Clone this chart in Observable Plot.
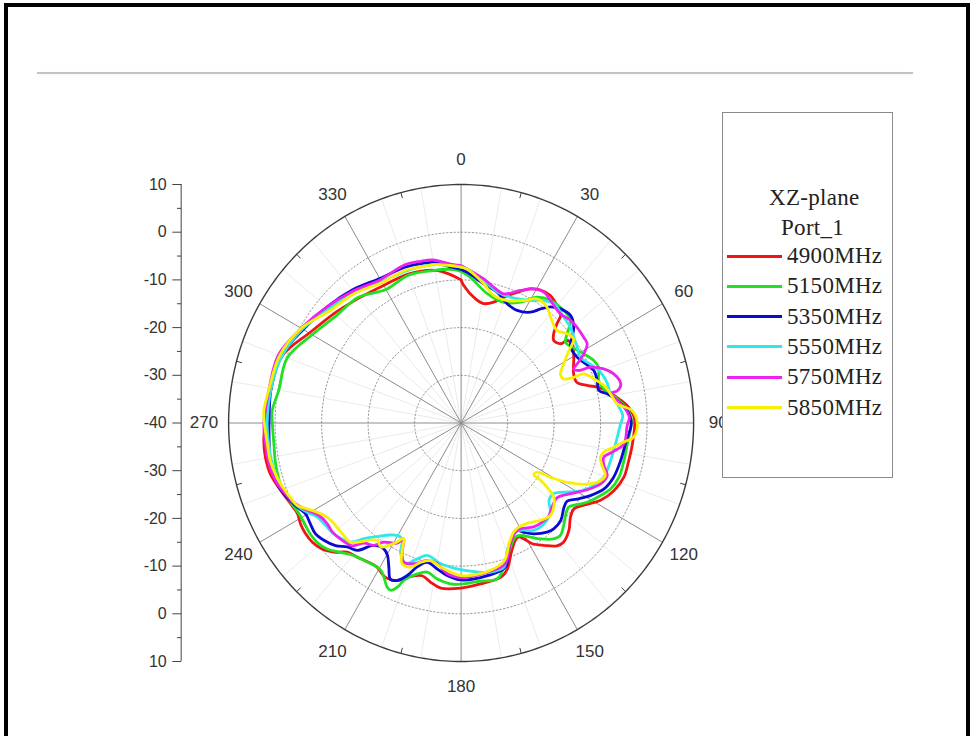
<!DOCTYPE html>
<html><head><meta charset="utf-8">
<script src="https://cdn.jsdelivr.net/npm/d3@7"></script>
<script src="https://cdn.jsdelivr.net/npm/@observablehq/plot@0.6"></script>
<style>
html,body{margin:0;padding:0;background:#fff;overflow:hidden;}
#wrap{position:relative;width:973px;height:736px;overflow:hidden;background:#fff;}
#chart{position:absolute;left:0;top:0;}
#frame{position:absolute;left:4px;top:3px;width:966px;height:800px;border:4px solid #000;box-sizing:border-box;}
#rule{position:absolute;left:37px;top:72px;width:876px;height:2px;background:#c2c2c2;box-shadow:0 2px 5px rgba(0,0,0,0.06);}
#legend{position:absolute;left:722px;top:112px;width:171px;height:366px;border:1px solid #8a8a8a;background:#fff;box-sizing:border-box;font-family:"Liberation Serif","Times New Roman",serif;color:#222;font-size:23px;letter-spacing:0.3px;}
#legend .t{position:absolute;white-space:nowrap;line-height:30px;height:30px;}
#legend .row{position:absolute;left:4px;height:30px;display:flex;align-items:center;white-space:nowrap;line-height:30px;}
#legend .sw{width:55px;height:3px;margin-right:5px;}
</style></head>
<body>
<div id="wrap">
  <div id="chart"></div>
  <div id="frame"></div>
  <div id="rule"></div>
  <div id="legend"></div>
</div>
<script>
// ---- data: [angle (deg, clockwise from top), gain (dB)] ----
const seriesNames = ["4900MHz","5150MHz","5350MHz","5550MHz","5750MHz","5850MHz"];
const seriesColors = ["#f01414","#22e022","#0a0ad2","#30e8e8","#ee22ee","#f8f000"];
const legendTitle = ["XZ-plane","Port_1"];
const angleTicks = [0,30,60,90,120,150,180,210,240,270,300,330];
const radialTicks = [10,0,-10,-20,-30,-40];
const radialMinor = [5,-5,-15,-25,-35];
const gridRings = [-30,-20,-10,0];

const f4900 = [[0,-10.0],[1.2,-11.2],[6.8,-13.8],[11.1,-14.5],[15.5,-13.7],[19.2,-12.1],[23.7,-10.1],[27.9,-8.2],[31.5,-7.3],[35.7,-7.1],[40,-7.9],[43.5,-8.9],[44.7,-10.7],[46.8,-12.7],[49,-13.6],[52.2,-12.9],[52.8,-11.4],[55.2,-10.9],[60.3,-12.1],[66.9,-13.7],[71,-13.7],[73.8,-11.8],[75.8,-9.5],[78.5,-7.5],[81.5,-5.7],[84.8,-3.8],[88.7,-2.7],[96.8,-2.9],[102.3,-3.1],[108,-3.2],[113.4,-4.2],[118.4,-5.9],[123.2,-8.5],[126.6,-9.8],[130,-9.3],[134.1,-7.7],[138.5,-6.7],[141.3,-7.0],[145.3,-8.8],[148.8,-10.4],[150.9,-12.2],[152.6,-13.1],[154.6,-12.8],[158.3,-10.8],[162,-7.8],[165,-6.6],[173,-6.0],[180,-5.4],[187.2,-5.1],[191.2,-6.0],[194.7,-6.9],[198.7,-6.0],[202.7,-4.2],[206.8,-3.8],[211,-4.8],[215.6,-4.5],[218.4,-4.1],[222.1,-3.5],[225.3,-1.5],[228.6,-0.1],[232,0.6],[235.3,0.7],[238.5,0.5],[241.6,0.0],[245.3,0.4],[251,1.5],[255.4,2.4],[260.3,2.7],[265,2.6],[270,2.1],[280,1.5],[290,1.0],[300.4,-2.4],[310,-4.3],[314,-5.0],[320.7,-5.9],[330,-6.7],[340,-6.8],[350,-7.5],[355.8,-8.8],[360,-10.0]];
const f5150 = [[0,-8.2],[3.7,-9.4],[11.7,-12.3],[19.9,-13.1],[26.8,-11.6],[31.7,-9.0],[36.8,-7.9],[43.1,-7.7],[47.6,-8.1],[50.6,-10.5],[53.1,-11.9],[56.4,-11.3],[61.2,-9.9],[65.3,-8.6],[68.4,-8.2],[73.3,-9.1],[76.8,-8.5],[80.8,-6.4],[84,-4.8],[88.6,-3.4],[97,-4.0],[102.7,-4.1],[108.6,-4.2],[113.3,-5.0],[116.9,-6.4],[121.5,-8.2],[124.5,-9.8],[127.2,-10.9],[130.2,-10.5],[133.7,-9.4],[137.8,-8.2],[140.7,-8.6],[144.9,-10.3],[148,-11.8],[151.5,-13.2],[153.9,-13.4],[157.8,-11.9],[162.2,-9.0],[166.6,-6.4],[173,-6.6],[180,-6.2],[183.9,-6.2],[188.9,-6.9],[193.1,-7.9],[196.6,-7.0],[200.5,-4.8],[201.5,-3.2],[203.4,-1.8],[204.8,-2.1],[209.2,-4.6],[216,-4.4],[219.7,-3.9],[223.7,-2.5],[227.5,-0.9],[231.1,-0.2],[235,-0.1],[238.4,-0.3],[241.4,-0.3],[243.9,0.0],[247.3,0.5],[251.7,0.9],[257.8,0.8],[263.8,0.5],[270,0.6],[273.7,0.7],[280,-0.2],[290,-0.2],[300,-3.0],[310,-5.0],[320,-5.6],[330,-7.7],[340,-7.0],[350,-7.5],[356,-7.7],[360,-8.2]];
const f5350 = [[0,-7.8],[2.4,-8.4],[9.5,-10.4],[15.8,-11.5],[21.6,-13.1],[27,-13.5],[32.7,-12.4],[35.6,-10.6],[38.3,-9.0],[41.8,-7.9],[46.3,-7.4],[50.3,-8.5],[53,-10.1],[55.9,-11.6],[61,-11.5],[65.1,-10.5],[68.9,-9.4],[73.1,-9.4],[77,-9.6],[79,-8.0],[82,-6.1],[85.8,-4.2],[90,-3.4],[97.1,-4.4],[103,-4.8],[109.2,-5.3],[114.2,-6.3],[118.7,-8.3],[122.6,-10.4],[125.7,-11.9],[128.5,-11.7],[133.6,-10.4],[138.1,-10.2],[141.1,-10.6],[146.1,-12.0],[149.5,-13.4],[151.9,-14.5],[154,-14.2],[158.4,-12.0],[162.5,-8.3],[170,-7.5],[180,-7.1],[185.4,-7.9],[189.6,-9.0],[194,-9.9],[197.4,-8.4],[199.9,-6.0],[202.7,-4.2],[204.9,-3.9],[207.2,-6.0],[209.6,-8.0],[212.2,-8.8],[216.2,-8.2],[219.9,-5.2],[223.3,-4.3],[226.4,-2.7],[230.2,-1.6],[233.5,-1.0],[236.9,-1.3],[240.4,-1.5],[243.4,-0.6],[248.8,0.9],[253.1,1.7],[258.2,1.9],[263.9,1.5],[270,1.3],[280,1.5],[290,1.2],[300,-0.8],[311,-2.4],[320,-3.6],[330,-5.0],[340,-5.2],[345.6,-5.5],[350,-5.8],[356,-7.2],[360,-7.8]];
const f5550 = [[0,-7.3],[3.6,-8.0],[10.9,-10.3],[17.4,-11.6],[24.8,-11.3],[30.1,-10.3],[34.7,-8.8],[38.5,-8.0],[44.9,-8.7],[49.5,-9.1],[53.4,-9.8],[57.5,-10.4],[61.8,-10.9],[66,-9.6],[70.4,-8.2],[74.7,-7.5],[79.2,-7.3],[83.2,-6.2],[87.4,-5.2],[90.3,-5.7],[97.5,-6.5],[103.8,-6.9],[110.4,-7.3],[114.7,-8.6],[118.9,-10.6],[123.3,-13.6],[126.6,-15.2],[130.6,-15.1],[133.6,-13.5],[136.2,-12.7],[141,-12.3],[145.3,-12.6],[149,-13.8],[152.1,-14.3],[155.3,-13.7],[159.7,-11.5],[163,-8.4],[168.6,-8.1],[174,-8.6],[181.6,-9.4],[188.5,-10.2],[194.7,-11.3],[198.3,-10.0],[202,-8.2],[205.4,-9.7],[207.6,-12.6],[210.3,-12.7],[213,-12.0],[217.2,-10.1],[220.7,-8.0],[223.6,-5.5],[229.8,-4.1],[233.6,-3.8],[237.6,-3.3],[240.5,-2.0],[243.8,-0.7],[247.9,0.4],[252.4,1.1],[258,1.5],[263.9,1.6],[270,1.7],[280,1.5],[290,1.0],[300,-0.6],[310,-2.8],[320,-4.2],[330,-5.8],[340,-6.0],[350,-6.3],[356,-6.9],[360,-7.3]];
const f5750 = [[0,-7.0],[2.3,-7.7],[9.2,-9.4],[13.9,-10.7],[18.7,-11.4],[24.7,-9.4],[29.1,-7.8],[33,-7.3],[36.8,-7.9],[43,-8.7],[47.6,-8.1],[51.2,-8.0],[55.7,-8.1],[58.5,-8.2],[61.2,-9.9],[63.6,-12.1],[64.9,-13.3],[66.5,-12.4],[67.2,-9.8],[69.7,-7.3],[72.6,-5.6],[76.6,-4.7],[78.6,-5.7],[79.2,-7.3],[82,-6.1],[84.6,-4.8],[88.1,-3.8],[91,-4.3],[97.2,-4.7],[100.6,-6.9],[103.2,-8.5],[106.2,-8.0],[109.3,-6.7],[113.1,-7.4],[117.3,-9.5],[122.2,-12.2],[127.3,-14.1],[131.9,-13.7],[135.8,-12.9],[140,-12.9],[144.4,-13.2],[150,-14.4],[152.9,-14.3],[157.3,-12.6],[162.2,-9.0],[170,-8.2],[180,-7.6],[185.4,-8.3],[189.9,-10.1],[194.2,-10.3],[199,-8.8],[202.8,-8.3],[204.9,-9.8],[206.9,-12.7],[208.7,-11.3],[213.6,-10.0],[216.2,-8.2],[219.7,-7.3],[222.3,-5.2],[226.2,-4.5],[230.4,-4.1],[233.8,-4.3],[237.6,-3.8],[242,-1.7],[245.2,-0.4],[249.2,0.8],[253.1,1.7],[258.2,2.2],[264,2.3],[270,2.4],[280,1.9],[290,1.8],[300,-0.3],[310,-2.2],[320,-3.9],[330,-5.3],[340,-4.7],[345.6,-5.0],[350,-5.3],[356.1,-6.6],[360,-7.0]];
const f5850 = [[0,-7.3],[2.3,-7.7],[9.5,-10.4],[14.8,-12.4],[21.1,-12.5],[27.7,-11.0],[32.1,-9.3],[37.3,-9.5],[40.9,-10.6],[46.7,-11.7],[50.6,-10.5],[54,-10.1],[56.8,-12.3],[60.7,-14.7],[64.3,-16.3],[67.3,-16.1],[68.4,-14.0],[68.7,-11.7],[72,-10.0],[75.6,-8.3],[79.2,-7.3],[83.2,-6.2],[86,-3.1],[90.3,-2.1],[94.6,-2.8],[96.5,-4.8],[98.8,-6.8],[101.2,-8.7],[103.5,-9.2],[106.4,-8.4],[109.5,-7.1],[112,-7.7],[115.3,-10.0],[118.6,-14.0],[120.7,-17.7],[122.3,-20.7],[124.7,-21.0],[125,-19.6],[126.1,-17.1],[128,-14.7],[131.5,-13.4],[135.3,-12.7],[140,-13.4],[146,-14.6],[150.4,-14.9],[153.7,-14.5],[157.8,-12.7],[162.1,-9.7],[170,-8.3],[180,-8.0],[184.2,-8.7],[188.3,-9.5],[192.9,-10.4],[196.6,-9.5],[199.8,-7.9],[203.3,-7.9],[205.4,-10.4],[207,-12.9],[208.9,-11.5],[213.6,-8.8],[216.3,-9.5],[221.8,-6.5],[223.6,-5.5],[227.8,-5.5],[231.5,-5.5],[235.6,-5.1],[238.9,-3.8],[241.5,-2.3],[243.8,-0.8],[248.4,0.2],[253.9,1.2],[259.1,1.8],[264,1.9],[270,2.3],[273.5,2.5],[280,1.9],[290,1.5],[300,-0.3],[310,-3.3],[320,-4.5],[330,-6.0],[340,-5.8],[345.6,-6.2],[350,-6.3],[356,-6.9],[360,-7.3]];
const seriesData = [f4900,f5150,f5350,f5550,f5750,f5850];

// ---- polar helpers (radius = dB above the -40 dB centre) ----
const dbMin = -40, dbMax = 10, rMax = dbMax - dbMin;
const rad = a => a * Math.PI / 180;
const PX = (a, r) => r * Math.sin(rad(a));
const PY = (a, r) => r * Math.cos(rad(a));

const rows = seriesNames.flatMap((name, k) =>
  seriesData[k].map(([a, db]) => ({name, a, r: db - dbMin})));

const ringRows = gridRings.flatMap(db =>
  d3.range(0, 361, 2).map(a => ({ring: db, a, r: db - dbMin})));
const outerRows = d3.range(0, 361, 1).map(a => ({a, r: rMax}));
const fineSpokes = d3.range(0, 360, 10).filter(a => a % 30 !== 0);
const midTicks = d3.range(15, 360, 30);

const axisX = -60.2;               // left radial axis position (in radius units)
const leftTicks = radialTicks.flatMap(v => v === dbMin ? [{v, y: 0}] : [{v, y: v - dbMin}, {v, y: -(v - dbMin)}]);
const leftMinor = radialMinor.flatMap(v => [{y: v - dbMin}, {y: -(v - dbMin)}]);

const chart = Plot.plot({
  width: 973, height: 736,
  marginTop: 0, marginRight: 0, marginBottom: 0, marginLeft: 0,
  x: {domain: [-rMax, rMax], range: [228.1, 693.1], axis: null},
  y: {domain: [-rMax, rMax], range: [661, 184], axis: null},
  color: {domain: seriesNames, range: seriesColors},
  style: {background: "transparent", fontFamily: "'Liberation Sans', Arial, sans-serif", overflow: "visible"},
  marks: [
    Plot.link(fineSpokes, {x1: 0, y1: 0, x2: a => PX(a, rMax), y2: a => PY(a, rMax), stroke: "#e4e4e4", strokeWidth: 0.8}),
    Plot.line(ringRows, {x: d => PX(d.a, d.r), y: d => PY(d.a, d.r), z: "ring", stroke: "#9a9a9a", strokeWidth: 1, strokeDasharray: "1.5,2.2"}),
    Plot.link(angleTicks, {x1: 0, y1: 0, x2: a => PX(a, rMax), y2: a => PY(a, rMax), stroke: "#8c8c8c", strokeWidth: 1}),
    Plot.line(outerRows, {x: d => PX(d.a, d.r), y: d => PY(d.a, d.r), stroke: "#3c3c3c", strokeWidth: 1.4}),
    Plot.link(midTicks, {x1: a => PX(a, rMax - 1.2), y1: a => PY(a, rMax - 1.2), x2: a => PX(a, rMax), y2: a => PY(a, rMax), stroke: "#3c3c3c", strokeWidth: 1}),
    Plot.text(angleTicks, {x: a => PX(a, 55.3), y: a => PY(a, 55.3), text: a => String(a), fontSize: 17, fill: "#333"}),
    Plot.ruleX([axisX], {y1: -rMax, y2: rMax, stroke: "#444", strokeWidth: 1}),
    Plot.link(leftTicks, {x1: axisX - 1.9, x2: axisX, y1: "y", y2: "y", stroke: "#444", strokeWidth: 1}),
    Plot.link(leftMinor, {x1: axisX - 0.9, x2: axisX, y1: "y", y2: "y", stroke: "#444", strokeWidth: 1}),
    Plot.text(leftTicks, {x: axisX - 3.1, y: "y", text: d => String(d.v), textAnchor: "end", fontSize: 16, fill: "#333"}),
    Plot.line(rows, {x: d => PX(d.a, d.r), y: d => PY(d.a, d.r), z: "name", stroke: "name", strokeWidth: 2.8, curve: "catmull-rom", strokeLinejoin: "round"})
  ]
});
document.getElementById("chart").appendChild(chart);

// legend
const lg = document.getElementById("legend");
const t1 = document.createElement("div"); t1.className = "t"; t1.style.left = "46px"; t1.style.top = "70px"; t1.textContent = legendTitle[0]; lg.appendChild(t1);
const t2 = document.createElement("div"); t2.className = "t"; t2.style.left = "58px"; t2.style.top = "100px"; t2.textContent = legendTitle[1]; lg.appendChild(t2);
seriesNames.forEach((n, i) => {
  const row = document.createElement("div"); row.className = "row";
  row.style.top = (128 + i * 30.3) + "px";
  const sw = document.createElement("div"); sw.className = "sw"; sw.style.background = seriesColors[i];
  const tx = document.createElement("span"); tx.textContent = n;
  row.appendChild(sw); row.appendChild(tx); lg.appendChild(row);
});
</script>
</body></html>
